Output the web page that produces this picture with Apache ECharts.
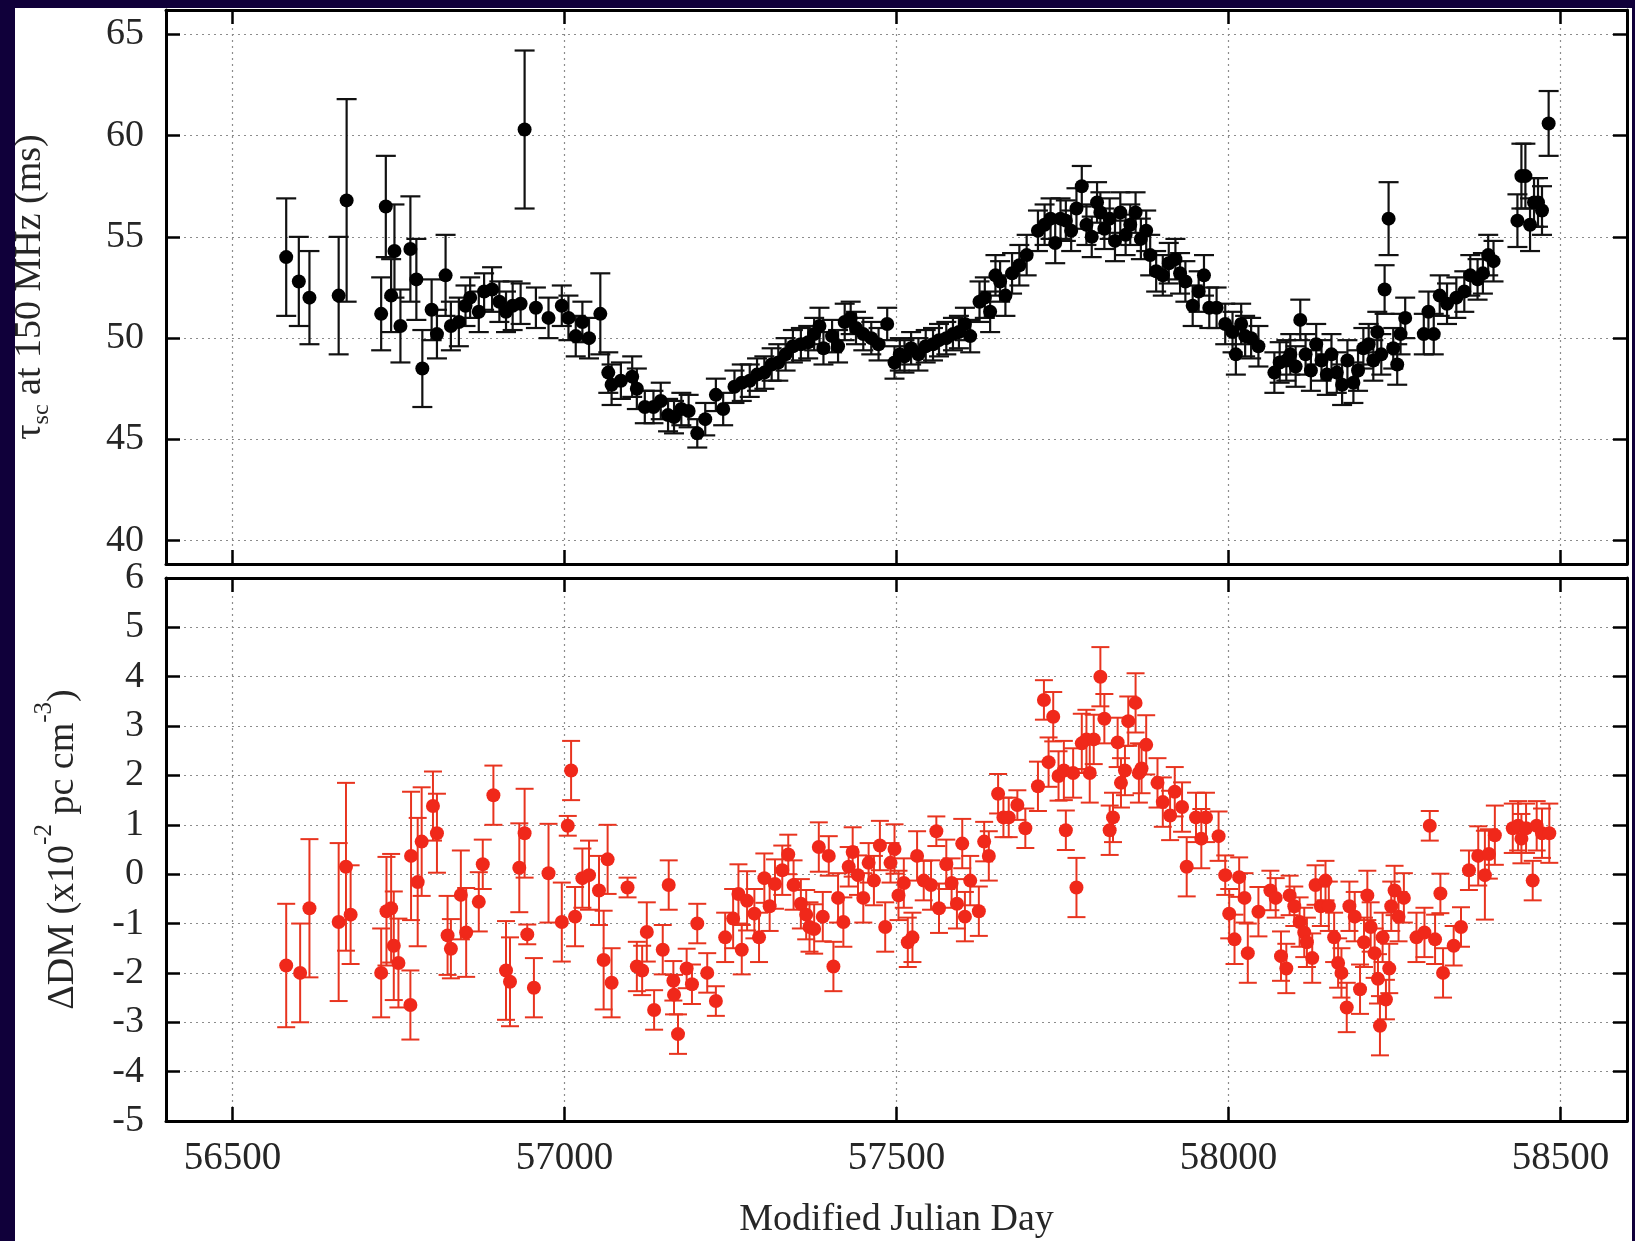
<!DOCTYPE html>
<html><head><meta charset="utf-8">
<script src="https://cdn.jsdelivr.net/npm/echarts@6/dist/echarts.min.js"></script>
<style>
html,body{margin:0;padding:0;background:#10003a;width:1635px;height:1241px;overflow:hidden}
#c{position:absolute;left:15px;top:8px;width:1617px;height:1233px;background:#fff}
</style></head><body><div id="c"></div>
<script>
const xTicks=[56500,57000,57500,58000,58500];
const tauTicks=[40,45,50,55,60,65];
const dmTicks=[-5,-4,-3,-2,-1,0,1,2,3,4,5,6];

const mjdTau=[56581,56600,56616,56660,56672,56724,56731,56739,56744,56753,
56768,56777,56786,56800,56808,56821,56829,56841,56851,56858,
56871,56879,56891,56902,56912,56922,56934,56940,56957,56976,
56996,57006,57017,57027,57037,57054,57066,57071,57085,57102,
57109,57121,57134,57145,57156,57165,57176,57187,57200,57212,
57228,57239,57256,57267,57279,57290,57301,57312,57322,57333,
57344,57356,57367,57376,57384,57390,57403,57412,57422,57431,
57439,57450,57462,57473,57486,57497,57505,57512,57522,57533,
57544,57555,57564,57575,57585,57594,57603,57611,57625,57633,
57641,57649,57656,57664,57674,57685,57696,57713,57723,57732,
57739,57747,57755,57763,57771,57779,57786,57794,57802,57807,
57813,57821,57829,57837,57845,57852,57860,57868,57876,57882,
57891,57901,57910,57920,57927,57935,57946,57955,57963,57971,
57982,57995,58006,58011,58019,58025,58034,58045,58069,58077,
58087,58093,58101,58108,58116,58124,58132,58140,58148,58155,
58163,58171,58179,58188,58195,58203,58211,58218,58224,58230,
58235,58241,58248,58254,58259,58266,58294,58301,58309,58318,
58329,58343,58355,58364,58375,58383,58391,58399,58435,58441,
58447,58454,58460,58466,58472,58482];
const tauVal=[54.0,52.8,52.0,52.1,56.8,51.2,56.5,52.1,54.3,50.6,
54.4,52.9,48.5,51.4,50.2,53.1,50.6,50.8,51.6,52.0,
51.3,52.3,52.4,51.8,51.3,51.6,51.7,60.3,51.5,51.0,
51.6,51.0,50.1,50.8,50.0,51.2,48.3,47.7,47.9,48.1,
47.5,46.6,46.6,46.9,46.2,46.1,46.5,46.4,45.3,46.0,
47.2,46.5,47.6,47.8,47.9,48.2,48.3,48.7,48.8,49.2,
49.6,49.7,49.8,50.2,50.6,49.5,50.1,49.6,50.8,51.0,
50.5,50.2,50.0,49.7,50.7,48.8,49.2,49.1,49.5,49.2,
49.6,49.7,49.9,50.0,50.2,50.3,50.7,50.1,51.8,52.0,
51.3,53.1,52.8,52.1,53.2,53.6,54.1,55.3,55.6,55.9,
54.7,55.9,55.8,55.3,56.4,57.5,55.6,55.0,56.7,56.2,
55.4,55.9,54.8,56.2,55.1,55.6,56.2,54.9,55.3,54.1,
53.3,53.1,53.7,53.9,53.2,52.8,51.6,52.3,53.1,51.5,
51.5,50.7,50.3,49.2,50.7,50.1,50.0,49.6,48.3,48.8,
48.9,49.2,48.6,50.9,49.2,48.4,49.7,48.9,48.2,49.2,
48.3,47.7,48.9,47.8,48.4,49.5,49.7,48.9,50.3,49.2,
52.4,55.9,49.5,48.7,50.2,51.0,50.2,51.3,50.2,52.1,
51.7,52.0,52.3,53.1,52.9,53.2,54.1,53.8,55.8,58.0,
58.0,55.6,56.7,56.7,56.3,60.6];
const tauErr=[2.9,2.2,2.3,2.9,5.0,1.8,2.5,1.8,2.3,1.8,
2.6,2.0,1.9,1.5,1.2,2.0,1.2,1.2,1.0,1.0,
1.0,0.9,1.1,1.0,1.0,1.2,1.0,3.9,1.0,1.0,
1.0,1.1,1.0,1.0,1.0,2.0,1.0,1.0,0.9,1.0,
1.0,0.8,0.8,0.9,0.8,0.8,0.8,0.8,0.7,0.8,
0.8,0.8,0.8,0.9,0.8,0.8,0.8,0.8,0.9,0.8,
0.8,0.8,0.8,0.8,0.9,0.8,0.8,0.8,0.9,0.8,
0.8,0.8,0.8,0.8,0.8,0.8,0.8,0.8,0.8,0.8,
0.8,0.8,0.8,0.8,0.8,0.8,0.8,0.8,1.0,1.0,
1.0,1.0,1.0,1.0,1.0,1.0,1.0,1.0,1.0,1.0,
1.0,1.0,1.0,1.0,1.0,1.0,1.0,1.0,1.0,1.0,
1.0,1.0,1.0,1.0,1.0,1.0,1.0,1.0,1.0,1.0,
1.0,1.0,1.0,1.0,1.0,1.0,1.0,1.0,1.0,1.0,
1.0,1.0,1.0,1.0,1.0,1.0,1.0,1.0,1.0,1.0,
1.0,1.0,1.0,1.0,1.0,1.0,1.0,1.0,1.0,1.0,
1.0,1.0,1.0,1.0,1.0,1.0,1.0,1.0,1.0,1.0,
1.2,1.8,1.0,1.0,1.0,1.0,1.0,1.0,1.0,1.0,
1.0,1.0,1.0,1.0,1.0,1.0,1.0,1.0,1.3,1.6,
1.6,1.3,1.2,1.2,1.2,1.6];

const mjdDM=[56581,56602,56616,56660,56671,56678,56724,56732,56739,56743,
56750,56768,56769,56779,56785,56802,56808,56824,56829,56844,
56852,56871,56877,56893,56912,56918,56932,56940,56944,56954,
56976,56996,57005,57010,57016,57027,57037,57052,57059,57065,
57071,57095,57109,57117,57124,57135,57148,57157,57164,57165,
57171,57184,57192,57200,57215,57228,57242,57254,57262,57267,
57275,57286,57293,57301,57309,57317,57328,57337,57345,57356,
57364,57369,57376,57383,57389,57398,57405,57412,57420,57428,
57434,57442,57450,57458,57466,57475,57483,57491,57497,57503,
57511,57517,57524,57531,57541,57552,57560,57564,57575,57583,
57591,57599,57603,57611,57624,57632,57639,57653,57661,57669,
57682,57694,57713,57722,57729,57736,57744,57752,57755,57766,
57771,57779,57786,57791,57797,57807,57813,57821,57826,57833,
57838,57844,57849,57860,57865,57869,57876,57893,57901,57912,
57919,57930,57937,57951,57959,57966,57985,57995,58001,58009,
58016,58024,58029,58045,58063,58071,58079,58087,58092,58099,
58107,58114,58118,58126,58131,58139,58146,58151,58159,58165,
58170,58178,58182,58190,58198,58204,58209,58214,58220,58225,
58228,58232,58237,58242,58245,58250,58256,58264,58283,58295,
58303,58311,58319,58323,58339,58350,58362,58376,58386,58392,
58401,58428,58436,58441,58448,58458,58464,58472,58483];
const dmVal=[-1.85,-2.0,-0.69,-0.97,0.15,-0.82,-2.0,-0.75,-0.69,-1.45,
-1.8,-2.65,0.37,-0.16,0.66,1.38,0.83,-1.24,-1.51,-0.42,
-1.18,-0.56,0.2,1.6,-1.95,-2.18,0.13,0.83,-1.22,-2.3,
0.02,-0.97,0.98,2.1,-0.86,-0.08,-0.02,-0.33,-1.74,0.3,
-2.2,-0.27,-1.87,-1.95,-1.17,-2.75,-1.53,-0.22,-2.16,-2.44,
-3.24,-1.91,-2.23,-1.0,-2.0,-2.57,-1.28,-0.9,-0.4,-1.53,
-0.54,-0.8,-1.28,-0.08,-0.65,-0.2,0.08,0.4,-0.22,-0.6,
-0.82,-1.07,-1.11,0.55,-0.86,0.37,-1.87,-0.48,-0.97,0.15,
0.45,-0.02,-0.48,0.23,-0.13,0.58,-1.07,0.23,0.51,-0.43,
-0.18,-1.38,-1.28,0.37,-0.13,-0.22,0.87,-0.69,0.2,-0.18,
-0.6,0.62,-0.86,-0.13,-0.75,0.66,0.37,1.63,1.15,1.15,
1.4,0.93,1.78,3.53,2.27,3.19,1.99,2.1,0.89,2.05,
-0.27,2.65,2.73,2.05,2.73,4.0,3.15,0.89,1.15,2.67,
1.85,2.1,3.1,3.47,2.05,2.14,2.62,1.85,1.46,1.19,
1.67,1.36,0.15,1.15,0.72,1.15,0.77,-0.02,-0.8,-1.32,
-0.06,-0.48,-1.6,-0.76,-0.33,-0.48,-1.66,-1.91,-0.43,-0.65,
-0.97,-1.18,-1.38,-1.7,-0.22,-0.65,-0.13,-0.65,-1.28,-1.8,
-2.0,-2.7,-0.65,-0.86,-2.33,-1.38,-0.43,-1.07,-1.6,-2.12,
-3.07,-1.28,-2.54,-1.91,-0.65,-0.33,-0.86,-0.48,-1.28,-1.18,
0.98,-1.32,-0.39,-2.0,-1.45,-1.07,0.08,0.37,-0.02,0.41,
0.79,0.93,0.98,0.72,0.93,-0.13,0.98,0.83,0.83];
const dmErr=[1.25,1.0,1.4,1.6,1.7,1.0,0.9,1.1,1.1,1.1,
0.9,0.7,1.3,1.3,1.1,0.7,0.8,0.8,0.6,0.9,
0.9,0.6,0.5,0.6,1.0,0.9,0.9,0.9,0.2,0.6,
1.0,0.8,0.2,0.6,0.6,0.6,0.7,0.7,1.0,0.7,
0.7,0.2,0.5,0.5,0.6,0.4,0.5,0.5,0.4,0.4,
0.4,0.4,0.4,0.4,0.4,0.3,0.5,0.6,0.6,0.5,
0.6,0.5,0.5,0.5,0.5,0.5,0.5,0.4,0.5,0.5,
0.5,0.5,0.5,0.5,0.5,0.4,0.5,0.5,0.5,0.4,
0.5,0.4,0.5,0.4,0.5,0.5,0.5,0.4,0.5,0.5,
0.5,0.5,0.5,0.5,0.4,0.5,0.3,0.5,0.5,0.5,
0.5,0.5,0.5,0.5,0.5,0.4,0.5,0.4,0.4,0.4,
0.3,0.4,0.5,0.4,0.5,0.5,0.5,0.6,0.4,0.5,
0.6,0.6,0.6,0.6,0.5,0.6,0.5,0.5,0.5,0.5,
0.5,0.5,0.5,0.6,0.6,0.5,0.6,0.5,0.5,0.5,
0.5,0.5,0.6,0.5,0.6,0.5,0.5,0.4,0.5,0.5,
0.4,0.5,0.6,0.5,0.4,0.4,0.5,0.5,0.4,0.4,
0.5,0.5,0.5,0.5,0.4,0.4,0.4,0.5,0.5,0.5,
0.5,0.5,0.5,0.5,0.5,0.5,0.5,0.5,0.5,0.5,
0.6,0.5,0.4,0.5,0.5,0.5,0.5,0.5,0.5,0.5,
0.3,0.5,0.4,0.5,0.4,0.4,0.4,0.6,0.9,0.5,
0.6,0.5,0.5,0.5,0.5,0.4,0.5,0.5,0.6];

const FONT='Liberation Serif';
const TXT='#262626';
const chart=echarts.init(document.getElementById('c'),null,{renderer:'canvas'});

function errRenderer(color,hw,lw){
  return function(params,api){
    const x=api.value(0),lo=api.value(1),hi=api.value(2);
    const a=api.coord([x,lo]),b=api.coord([x,hi]);
    const st={stroke:color,lineWidth:lw};
    return {type:'group',children:[
      {type:'line',shape:{x1:a[0],y1:a[1],x2:b[0],y2:b[1]},style:st},
      {type:'line',shape:{x1:a[0]-hw,y1:a[1],x2:a[0]+hw,y2:a[1]},style:st},
      {type:'line',shape:{x1:b[0]-hw,y1:b[1],x2:b[0]+hw,y2:b[1]},style:st}
    ]};
  };
}
const plain=v=>'{t|'+String(Math.round(v))+'}';
const labRich=size=>({t:{fontFamily:FONT,fontSize:size,color:TXT}});
const gridLine={show:true,lineStyle:{color:'#8c8c8c',width:1.2,type:[2,4]}};
const axLine={show:true,onZero:false,lineStyle:{color:'#000',width:3}};
function xAx(grid,pos,labels,split){
  return {type:'value',gridIndex:grid,position:pos,min:56400,max:58600,
    axisLine:axLine,
    axisTick:{show:true,inside:true,length:14,customValues:xTicks,lineStyle:{color:'#000',width:2.5}},
    axisLabel:{show:labels,customValues:xTicks,formatter:plain,margin:18,fontFamily:FONT,fontSize:39,color:TXT,rich:labRich(39)},
    splitLine:split?gridLine:{show:false}};
}
function yAx(grid,pos,labels,split,mn,mx,ticks){
  return {type:'value',gridIndex:grid,position:pos,min:mn,max:mx,
    axisLine:axLine,
    axisTick:{show:true,inside:true,length:14,customValues:ticks,lineStyle:{color:'#000',width:2.5}},
    axisLabel:{show:labels,customValues:ticks,formatter:plain,margin:22,fontFamily:FONT,fontSize:38,color:TXT,rich:labRich(38)},
    splitLine:split?gridLine:{show:false}};
}
const xa=[xAx(0,'bottom',false,true),xAx(0,'top',false,false),xAx(1,'bottom',true,true),xAx(1,'top',false,false)];
xa[2].name='Modified Julian Day';
xa[2].nameLocation='middle';
xa[2].nameGap=80;
xa[2].nameTextStyle={fontFamily:FONT,fontSize:38,color:TXT};

const ya=[yAx(0,'left',true,true,38.85,66.2,tauTicks),yAx(0,'right',false,false,38.85,66.2,tauTicks),
  yAx(1,'left',true,true,-5,6,dmTicks),yAx(1,'right',false,false,-5,6,dmTicks)];
ya[0].name='{a|τ}{s|sc}{a| at 150 MHz (ms)}';
ya[0].nameLocation='middle';ya[0].nameRotate=90;ya[0].nameGap=112;
ya[0].nameTextStyle={fontFamily:FONT,color:TXT,rich:{
  a:{fontFamily:FONT,fontSize:38,color:TXT,lineHeight:48,verticalAlign:'middle'},
  s:{fontFamily:FONT,fontSize:24,color:TXT,lineHeight:48,verticalAlign:'bottom'}}};
ya[2].name='{a|ΔDM (x10}{p|-2}{a| pc cm}{p|-3}{a|)}';
ya[2].nameLocation='middle';ya[2].nameRotate=90;ya[2].nameGap=84;
ya[2].nameTextStyle={fontFamily:FONT,color:TXT,rich:{
  a:{fontFamily:FONT,fontSize:38,color:TXT,lineHeight:50,verticalAlign:'bottom'},
  p:{fontFamily:FONT,fontSize:25,color:TXT,lineHeight:50,verticalAlign:'top'}}};

const tauErrData=mjdTau.map((m,i)=>[m,tauVal[i]-tauErr[i],tauVal[i]+tauErr[i]]);
const tauData=mjdTau.map((m,i)=>[m,tauVal[i]]);
const dmErrData=mjdDM.map((m,i)=>[m,dmVal[i]-dmErr[i],dmVal[i]+dmErr[i]]);
const dmData=mjdDM.map((m,i)=>[m,dmVal[i]]);

chart.setOption({
  animation:false,
  backgroundColor:'#fff',
  textStyle:{fontFamily:FONT},
  grid:[{left:151,top:2,width:1461,height:554,containLabel:false,outerBoundsMode:'none'},
        {left:151,top:570,width:1461,height:543,containLabel:false,outerBoundsMode:'none'}],
  xAxis:xa,yAxis:ya,
  series:[
    {type:'custom',xAxisIndex:0,yAxisIndex:0,renderItem:errRenderer('#111',10,2.2),data:tauErrData,encode:{x:0,y:[1,2]},clip:true,z:2},
    {type:'scatter',xAxisIndex:0,yAxisIndex:0,data:tauData,symbol:'circle',symbolSize:14,itemStyle:{color:'#000',opacity:1},z:3},
    {type:'custom',xAxisIndex:2,yAxisIndex:2,renderItem:errRenderer('#e8341f',9,2),data:dmErrData,encode:{x:0,y:[1,2]},clip:true,z:2},
    {type:'scatter',xAxisIndex:2,yAxisIndex:2,data:dmData,symbol:'circle',symbolSize:14,itemStyle:{color:'#f0281a',opacity:1},z:3}
  ]
});
</script></body></html>
